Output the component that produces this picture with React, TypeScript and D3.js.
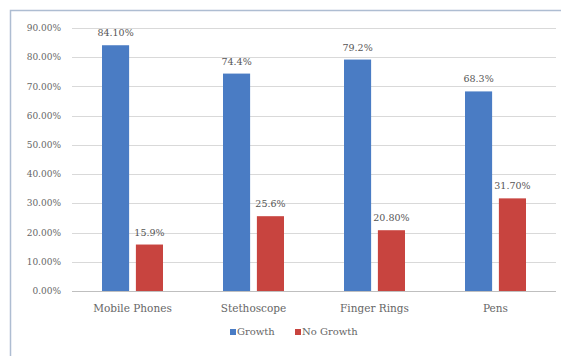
import React from "react";
import * as d3 from "d3";

const categories = ["Mobile Phones", "Stethoscope", "Finger Rings", "Pens"];
const seriesNames = ["Growth", "No Growth"];
const growth = [84.1, 74.4, 79.2, 68.3];
const noGrowth = [15.9, 25.6, 20.8, 31.7];
const growthLabels = ["84.10%", "74.4%", "79.2%", "68.3%"];
const noGrowthLabels = ["15.9%", "25.6%", "20.80%", "31.70%"];
const yTicks = [0, 10, 20, 30, 40, 50, 60, 70, 80, 90];
const colors = ["#4a7cc4", "#c8443f"];

const W = 561;
const H = 356;
const FONT = "'DejaVu Serif', 'Liberation Serif', serif";

export default function App() {
  const left = 72;
  const right = 556;
  const top = 28;
  const bottom = 291;

  const y = d3.scaleLinear().domain([0, 90]).range([bottom, top]);
  const x0 = d3
    .scaleBand<string>()
    .domain(categories)
    .range([left, right])
    .paddingInner(0.496)
    .paddingOuter(0.248);
  const x1 = d3
    .scaleBand<string>()
    .domain(seriesNames)
    .range([0, x0.bandwidth()])
    .paddingInner(0.2);

  const values = [growth, noGrowth];
  const labels = [growthLabels, noGrowthLabels];
  const fmt = d3.format(".2f");

  return (
    <svg
      width={W}
      height={H}
      style={{ position: "absolute", left: 0, top: 0, background: "#fff" }}
      fontFamily={FONT}
    >
      <rect x={10.5} y={10.5} width={700} height={500} fill="#fff" stroke="#aebdd2" strokeWidth={1.5} />
      {yTicks.map((t) => (
        <g key={t}>
          <line
            x1={left}
            x2={right}
            y1={Math.round(y(t)) + 0.5}
            y2={Math.round(y(t)) + 0.5}
            stroke={t === 0 ? "#bfbfbf" : "#d9d9d9"}
            strokeWidth={1}
          />
          <text
            x={61}
            y={y(t)}
            dy="0.35em"
            textAnchor="end"
            fontSize={9}
            fill="#666"
          >
            {fmt(t) + "%"}
          </text>
        </g>
      ))}
      {categories.map((c, i) => (
        <g key={c} transform={`translate(${x0(c)},0)`}>
          {seriesNames.map((s, j) => (
            <g key={s}>
              <rect
                x={x1(s)}
                y={y(values[j][i])}
                width={x1.bandwidth()}
                height={y(0) - y(values[j][i])}
                fill={colors[j]}
              />
              <text
                x={(x1(s) as number) + x1.bandwidth() / 2}
                y={y(values[j][i]) - 9}
                textAnchor="middle"
                fontSize={9.5}
                fill="#555"
              >
                {labels[j][i]}
              </text>
            </g>
          ))}
          <text
            x={x0.bandwidth() / 2}
            y={312}
            textAnchor="middle"
            fontSize={10.5}
            fill="#666"
          >
            {c}
          </text>
        </g>
      ))}
      <g>
        <rect x={230} y={329} width={6} height={6} fill={colors[0]} />
        <text x={237} y={335} fontSize={10} fill="#666">
          {seriesNames[0]}
        </text>
        <rect x={295} y={329} width={6} height={6} fill={colors[1]} />
        <text x={302} y={335} fontSize={10} fill="#666">
          {seriesNames[1]}
        </text>
      </g>
    </svg>
  );
}
